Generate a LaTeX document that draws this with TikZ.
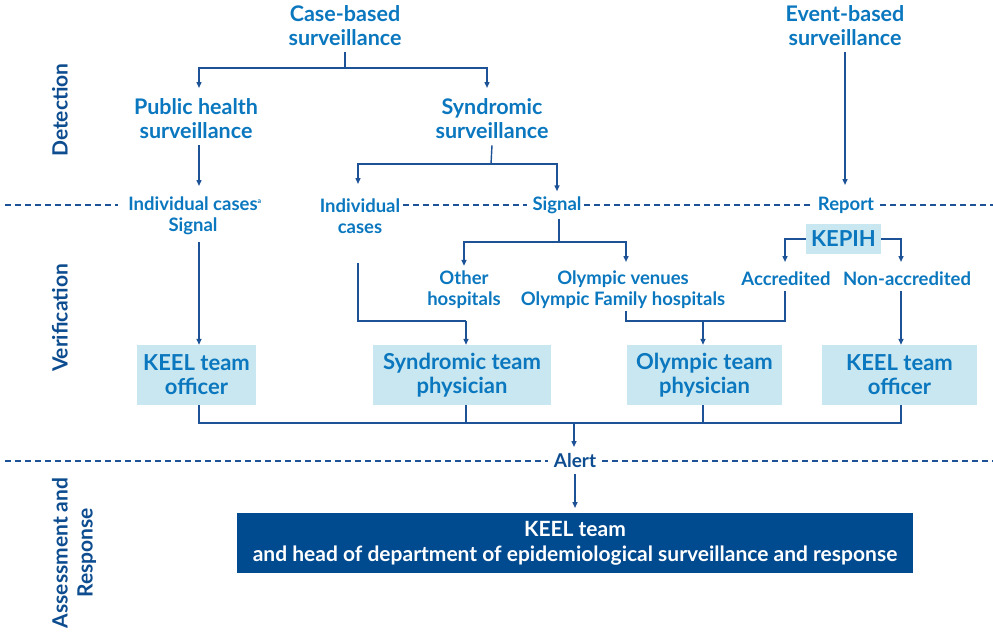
\documentclass[tikz,border=0pt]{standalone}
\usepackage{fontspec}
\setmainfont{Lato}
\usetikzlibrary{arrows.meta,calc}
\definecolor{tblue}{RGB}{10,119,190}
\definecolor{lblue}{RGB}{30,82,150}
\definecolor{hblue}{RGB}{12,76,143}
\definecolor{boxfill}{RGB}{200,231,240}
\definecolor{darkbox}{RGB}{0,74,143}
\tikzset{
  lbl/.style={text=tblue, font=\fontsize{21.5}{24}\selectfont\bfseries, align=center, inner xsep=2pt, inner ysep=6pt},
  slbl/.style={text=tblue, font=\fontsize{18.5}{21}\selectfont\bfseries, align=center, inner xsep=3pt, inner ysep=5pt},
  vbox/.style={fill=boxfill, text=tblue, font=\fontsize{22}{24}\selectfont\bfseries, align=center, minimum height=60pt, inner sep=0pt},
  side/.style={text=hblue, font=\fontsize{21}{25}\selectfont\bfseries, align=center, rotate=90},
  conn/.style={draw=lblue, line width=1.4pt},
  arr/.style={conn, -{Triangle[length=6pt,width=5pt]}},
  dline/.style={draw=lblue, line width=1.2pt, dash pattern=on 6pt off 4pt}
}
\begin{document}
\begin{tikzpicture}[x=1pt,y=-1pt]
\useasboundingbox (0,0) rectangle (993,634);
% side labels
\node[side] (sdet) at (60,110) {Detection};
\node[side] (sver) at (60,318) {Verification};
\node[side] (sass) at (74,553) {Assessment and\\Response};
% detection
\node[lbl] (cb) at (345,26) {Case-based\\surveillance};
\node[lbl] (eb) at (845,26) {Event-based\\surveillance};
\node[lbl] (ph) at (196,119) {Public health\\surveillance};
\node[lbl] (sy) at (492,119) {Syndromic\\surveillance};
% boundary labels
\node[slbl] (ic) at (193,216) {Individual cases\rlap{\raisebox{7pt}{\fontsize{7}{7}\selectfont a}}\\Signal};
\node[slbl] (ic2) at (360,216) {Individual\\cases};
\node[slbl] (sig) at (557,205) {Signal};
\node[slbl] (rep) at (846,205) {Report};
% verification
\node[fill=boxfill, text=tblue, font=\fontsize{22}{24}\selectfont\bfseries, minimum width=75pt, minimum height=30pt, inner sep=0pt] (kep) at (843.5,239) {KEPIH};
\node[slbl] (oh) at (464,290) {Other\\hospitals};
\node[slbl] (ov) at (623,290) {Olympic venues\\Olympic Family hospitals};
\node[slbl] (acc) at (786,279) {Accredited};
\node[slbl] (nacc) at (907,279) {Non-accredited};
\node[vbox, minimum width=119pt] (b1) at (196.5,375) {KEEL team\\officer};
\node[vbox, minimum width=178pt] (b2) at (462,375) {Syndromic team\\physician};
\node[vbox, minimum width=155pt] (b3) at (704.5,375) {Olympic team\\physician};
\node[vbox, minimum width=155pt] (b4) at (899.5,375) {KEEL team\\officer};
% alert and response
\node[text=hblue, font=\fontsize{19}{20}\selectfont\bfseries, inner sep=4pt] (alert) at (575,461) {Alert};
\node[fill=darkbox, text=white, font=\fontsize{21}{25}\selectfont\bfseries, align=center, minimum width=676pt, minimum height=60pt, inner sep=0pt] (fin) at (575,543) {KEEL team\\and head of department of epidemiological surveillance and response};
% dashed lines
\draw[dline] (5,205) -- (118,205);
\draw[dline] (403,205) -- (527,205);
\draw[dline] (584,205) -- (813,205);
\draw[dline] (880,205) -- (993,205);
\draw[dline] (5,461) -- (548,461);
\draw[dline] (602,461) -- (993,461);
% junction coordinates
\coordinate (j1) at (345,68);
\coordinate (j2) at (491,164);
\coordinate (j3) at (559,242);
\coordinate (j4) at (466,321);
\coordinate (j5) at (785,321);
\coordinate (j6) at (703,321);
\coordinate (j7) at (574,423);
\coordinate (xa) at (199,0);
\coordinate (xn) at (901,0);
\coordinate (xo) at (626,0);
\coordinate (xc) at (358,263);
\coordinate (xs) at (487,0);
% connectors
\draw[conn] (cb.south) -- (j1);
\draw[arr] (j1) -| (xa |- 0,88);
\draw[arr] (j1) -| (xs |- 0,88);
\draw[arr] (xa |- ph.south) -- (xa |- 0,186);
\draw[arr] (xa |- 0,242) -- (xa |- b1.north);
\draw[conn] (sy.south) -- (j2);
\draw[arr] (j2) -| (xc |- 0,184);
\draw[arr] (j2) -| (sig.north);
\draw[arr] (eb.south) -- (845,185);
\draw[conn] ($(sig.south)+(2,0)$) -- (j3);
\draw[arr] (j3) -| (oh.north);
\draw[arr] (j3) -| (xo |- 0,262);
\draw[arr] (kep.west) -| (j5 |- 0,262);
\draw[arr] (kep.east) -| (xn |- 0,262);
\draw[conn] (xc) |- (j4);
\draw[arr] (j4) -- (j4 |- b2.north);
\draw[conn] (xo |- 0,311) |- (j5) -- (j5 |- 0,291);
\draw[arr] (j6) -- (j6 |- b3.north);
\draw[arr] (xn |- 0,291) -- (xn |- b4.north);
\draw[conn] (xa |- b1.south) |- (xn |- j7) -- (xn |- b4.south);
\draw[conn] (j4 |- b2.south) -- (j4 |- j7);
\draw[conn] (j6 |- b3.south) -- (j6 |- j7);
\draw[arr] (j7) -- (574,447);
\draw[arr] (575,474) -- (575,508);
\end{tikzpicture}
\end{document}
